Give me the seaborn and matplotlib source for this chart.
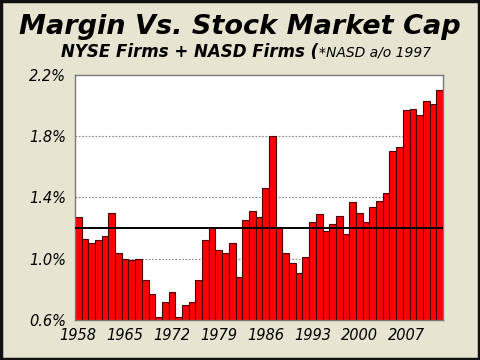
import numpy as np
import pandas as pd
import matplotlib
matplotlib.use("Agg")
import matplotlib.pyplot as plt
import seaborn as sns

# margin debt as % of market cap
years = list(range(1958, 2013))
margin_pct = [1.27, 1.13, 1.10, 1.12, 1.15, 1.30, 1.04, 1.00, 0.99, 1.00,
              0.86, 0.77, 0.62, 0.72, 0.78, 0.62, 0.70, 0.72, 0.86, 1.12,
              1.20, 1.06, 1.04, 1.10, 0.88, 1.25, 1.31, 1.27, 1.46, 1.80,
              1.20, 1.04, 0.97, 0.91, 1.01, 1.24, 1.29, 1.18, 1.23, 1.28,
              1.16, 1.37, 1.30, 1.24, 1.34, 1.38, 1.43, 1.70, 1.73, 1.97,
              1.98, 1.94, 2.03, 2.01, 2.10]
avg_line = 1.2
label_years = [1958, 1965, 1972, 1979, 1986, 1993, 2000, 2007]
y_ticks = [0.6, 1.0, 1.4, 1.8, 2.2]

df = pd.DataFrame({"year": years, "pct": margin_pct})

sns.set_style("white")
plt.rcParams["text.color"] = "black"
plt.rcParams["xtick.color"] = "black"
plt.rcParams["ytick.color"] = "black"
bg = "#E7E5D1"
fig = plt.figure(figsize=(4.8, 3.6), dpi=100, facecolor=bg)
ax = fig.add_axes([0.156, 0.111, 0.767, 0.681])
ax.set_facecolor("white")

sns.barplot(data=df, x="year", y="pct", color="#FF0000", saturation=1,
            width=1.0, edgecolor="#4a0000", linewidth=0.8, ax=ax)

ax.axhline(avg_line, color="black", lw=1.4, zorder=5)
ax.set_ylim(0.6, 2.2)
ax.set_xlim(-0.5, len(years) - 0.5)

ax.set_yticks(y_ticks)
ax.set_yticklabels([f"{v:.1f}%" for v in y_ticks], fontsize=10.5, style="italic")
ax.set_yticks([0.8, 1.2, 1.6, 2.0], minor=True)
for v in y_ticks[1:-1]:
    ax.axhline(v, color="#888888", lw=0.8, ls=(0, (1.5, 1.5)), zorder=0)

pos = [years.index(y) for y in label_years]
ax.set_xticks(pos)
ax.set_xticklabels([str(y) for y in label_years], fontsize=10.5, style="italic")
ax.set_xticks(np.arange(-0.5, len(years), 1), minor=True)
ax.tick_params(axis="both", which="both", direction="out", length=3, color="#333333")
ax.tick_params(axis="x", which="major", length=0, pad=6)
ax.set_xlabel("")
ax.set_ylabel("")
for s in ax.spines.values():
    s.set_color("#777777")
    s.set_linewidth(1.0)

fig.text(0.5, 0.925, "Margin Vs. Stock Market Cap", ha="center", va="center",
         fontsize=19.5, fontweight="bold", style="italic", color="black")
fig.text(0.663, 0.855, "NYSE Firms + NASD Firms (", ha="right", va="center",
         fontsize=12, fontweight="bold", style="italic", color="black")
fig.text(0.665, 0.855, "*NASD a/o 1997", ha="left", va="center",
         fontsize=10, style="italic", color="black")

fig.patches.append(plt.Rectangle((0.003, 0.004), 0.994, 0.992, transform=fig.transFigure,
                                 fill=False, edgecolor="#111111", lw=2.5))

fig.savefig("out.png", dpi=100, facecolor=bg)
